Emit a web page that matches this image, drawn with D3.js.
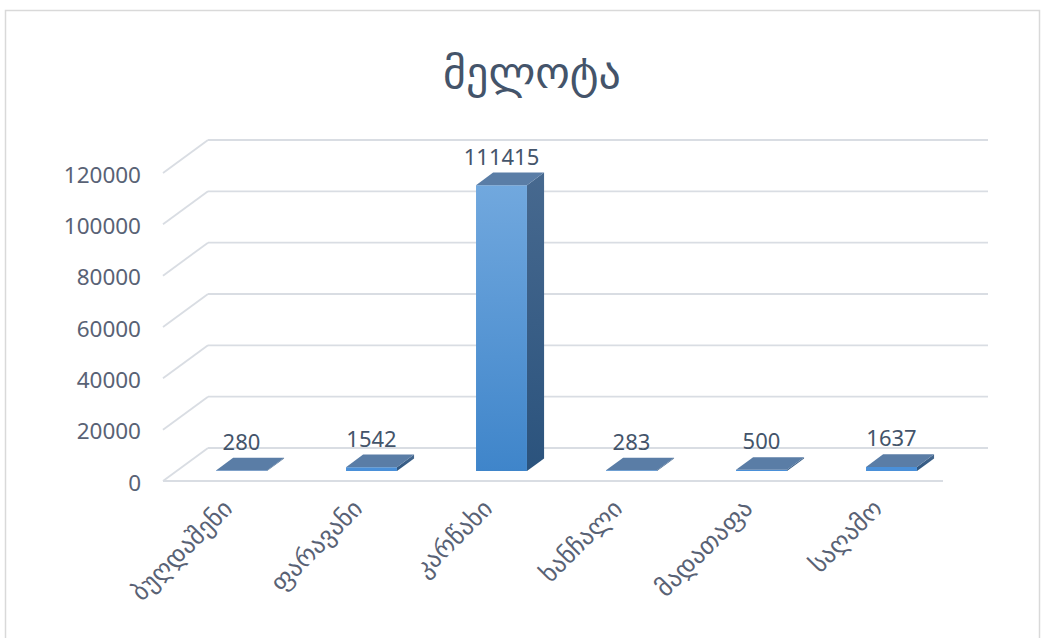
<!DOCTYPE html>
<html>
<head>
<meta charset="utf-8">
<script src="https://cdn.jsdelivr.net/npm/d3@7/dist/d3.min.js"></script>
<style>
  html, body { margin: 0; padding: 0; background: #ffffff; }
  svg { display: block; }
  text { font-family: "Noto Sans", "DejaVu Sans", sans-serif; }
</style>
</head>
<body>
<svg id="chart" width="1045" height="638"></svg>
<script>
// Fish catch by lake
const title = "მელოტა";
const categories = ["ბუღდაშენი", "ფარავანი", "კარწახი", "ხანჩალი", "მადათაფა", "საღამო"];
const values = [280, 1542, 111415, 283, 500, 1637];
const yTicks = [0, 20000, 40000, 60000, 80000, 100000, 120000];

const svg = d3.select("#chart");

// Outer chart frame
svg.append("rect")
  .attr("x", 5.5).attr("y", 10.5)
  .attr("width", 1034).attr("height", 640)
  .attr("fill", "#ffffff")
  .attr("stroke", "#d9d9d9").attr("stroke-width", 1.5);

// Title
svg.append("text")
  .attr("x", 532).attr("y", 88)
  .attr("text-anchor", "middle")
  .attr("font-size", 44)
  .attr("fill", "#44546a")
  .text(title);

// 3D projection: front plane coordinates plus a depth offset
const DX = 45, DY = -33;
const x = d3.scaleBand().domain(categories).range([163, 943]).padding(0);
const y = d3.scaleLinear().domain([0, 120000]).range([481, 173]);
const proj = (px, v, z) => [px + z * DX, y(v) + z * DY];

const grid = svg.append("g")
  .attr("stroke", "#d9dde3").attr("stroke-width", 1.8).attr("fill", "none");

// Back wall gridlines
grid.selectAll("line.back").data(yTicks).join("line")
  .attr("class", "back")
  .attr("x1", d => proj(163, d, 1)[0]).attr("y1", d => proj(163, d, 1)[1])
  .attr("x2", d => proj(943, d, 1)[0]).attr("y2", d => proj(943, d, 1)[1]);

// Side wall gridlines
grid.selectAll("line.side").data(yTicks).join("line")
  .attr("class", "side")
  .attr("x1", d => proj(163, d, 0)[0]).attr("y1", d => proj(163, d, 0)[1])
  .attr("x2", d => proj(163, d, 1)[0]).attr("y2", d => proj(163, d, 1)[1]);

// Floor front edge
grid.append("line")
  .attr("x1", proj(163, 0, 0)[0]).attr("y1", proj(163, 0, 0)[1])
  .attr("x2", proj(943, 0, 0)[0]).attr("y2", proj(943, 0, 0)[1]);

// Value axis labels
const yAxis = svg.append("g")
  .attr("transform", "translate(150,2)")
  .call(d3.axisLeft(y).tickValues(yTicks).tickSize(0).tickPadding(9).tickFormat(d3.format("d")));
yAxis.select(".domain").remove();
yAxis.selectAll("text")
  .attr("font-size", 22.5)
  .attr("fill", "#596275")
  .style("font-family", "\"Noto Sans\", \"DejaVu Sans\", sans-serif");

// Gradients for bar faces
const defs = svg.append("defs");
const gFront = defs.append("linearGradient").attr("id", "front").attr("x1", 0).attr("y1", 0).attr("x2", 0).attr("y2", 1);
gFront.append("stop").attr("offset", "0%").attr("stop-color", "#71a8de");
gFront.append("stop").attr("offset", "100%").attr("stop-color", "#3f85ca");
const gSide = defs.append("linearGradient").attr("id", "side").attr("x1", 0).attr("y1", 0).attr("x2", 0).attr("y2", 1);
gSide.append("stop").attr("offset", "0%").attr("stop-color", "#47698f");
gSide.append("stop").attr("offset", "100%").attr("stop-color", "#2b537d");

// Bars
const Z0 = 0.3, Z1 = 0.68;
const bw = x.bandwidth() * 0.392;
const data = categories.map((c, i) => ({ c, v: values[i] }));
const pts = arr => arr.map(p => p.join(",")).join(" ");

const bars = svg.append("g").selectAll("g").data(data).join("g");
bars.each(function (d) {
  const g = d3.select(this);
  const cx = x(d.c) + x.bandwidth() / 2;
  const l = cx - bw / 2, r = cx + bw / 2;
  // right side face
  g.append("polygon")
    .attr("points", pts([proj(r, 0, Z0), proj(r, 0, Z1), proj(r, d.v, Z1), proj(r, d.v, Z0)]))
    .attr("fill", "url(#side)");
  // front face
  g.append("polygon")
    .attr("points", pts([proj(l, 0, Z0), proj(r, 0, Z0), proj(r, d.v, Z0), proj(l, d.v, Z0)]))
    .attr("fill", d.v > 5000 ? "url(#front)" : "#4a90d9");
  // top face
  g.append("polygon")
    .attr("points", pts([proj(l, d.v, Z0), proj(r, d.v, Z0), proj(r, d.v, Z1), proj(l, d.v, Z1)]))
    .attr("fill", "#5a7da6");
  // value label
  g.append("text")
    .attr("x", proj(cx, d.v, Z0)[0])
    .attr("y", proj(cx, d.v, Z1)[1] - 8)
    .attr("text-anchor", "middle")
    .attr("font-size", 22)
    .attr("fill", "#44546a")
    .text(d.v);
});

// Category labels, rotated
svg.append("g").selectAll("text").data(categories).join("text")
  .attr("transform", d => `translate(${x(d) + x.bandwidth() / 2 + 6},510) rotate(-45)`)
  .attr("text-anchor", "end")
  .attr("font-size", 25)
  .attr("fill", "#596275")
  .text(d => d);
</script>
</body>
</html>
